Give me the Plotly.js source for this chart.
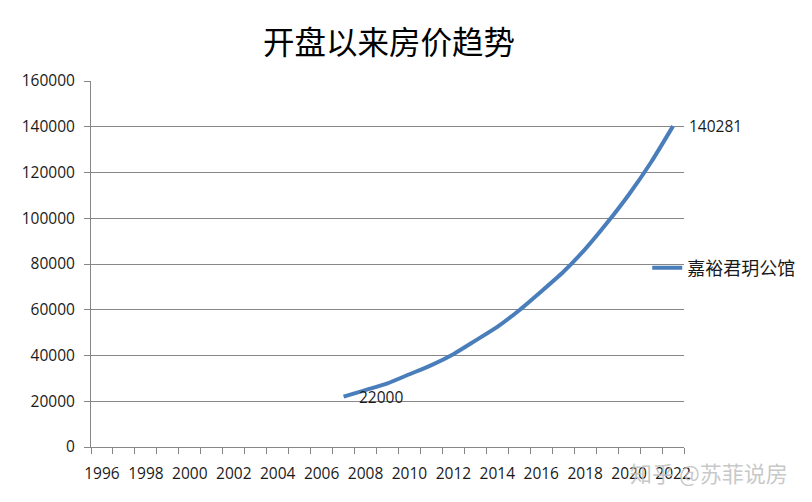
<!DOCTYPE html>
<html>
<head>
<meta charset="utf-8">
<script src="https://cdn.plot.ly/plotly-3.0.1.min.js"></script>
<style>html,body{margin:0;padding:0;background:#fff}#chart{width:812px;height:502px}</style>
</head>
<body>
<div id="chart"></div>
<script>
var chartTitle = "开盘以来房价趋势";
var seriesName = "嘉裕君玥公馆";
var years = [2007, 2008, 2009, 2010, 2011, 2012, 2013, 2014, 2015, 2016, 2017, 2018, 2019, 2020, 2021, 2022];
var prices = [22000, 24900, 27800, 31800, 35800, 40600, 46500, 52500, 59800, 68000, 76500, 86500, 98000, 110500, 124500, 140281];
var axisYears = [1996, 1997, 1998, 1999, 2000, 2001, 2002, 2003, 2004, 2005, 2006, 2007, 2008, 2009, 2010, 2011, 2012, 2013, 2014, 2015, 2016, 2017, 2018, 2019, 2020, 2021, 2022];
var xTickLabels = [1996, 1998, 2000, 2002, 2004, 2006, 2008, 2010, 2012, 2014, 2016, 2018, 2020, 2022];
var yTicks = [0, 20000, 40000, 60000, 80000, 100000, 120000, 140000, 160000];
var watermark = "知乎 @苏菲说房";

var gridColor = "#878787";
var lineColor = "#4a7ebb";
var numFont = "'Open Sans', 'DejaVu Sans', sans-serif";
var cjkFont = "'Noto Sans CJK SC', sans-serif";

var trace = {
  x: years,
  y: prices,
  type: "scatter",
  mode: "lines",
  name: seriesName,
  line: {color: lineColor, width: 4, shape: "spline", smoothing: 0.6},
  hoverinfo: "x+y"
};

var first = 0, last = years.length - 1;
var layout = {
  width: 812,
  height: 502,
  margin: {l: 91, r: 128, t: 81, b: 55},
  paper_bgcolor: "#ffffff",
  plot_bgcolor: "#ffffff",
  title: {
    text: chartTitle,
    font: {family: cjkFont, size: 31.5, color: "#000000"},
    x: 0.5025, xanchor: "center", xref: "paper",
    y: 0.914, yanchor: "middle", yref: "container"
  },
  xaxis: {
    type: "linear",
    range: [axisYears[0] - 0.5, axisYears[axisYears.length - 1] + 0.5],
    tickmode: "array",
    tickvals: xTickLabels,
    ticktext: xTickLabels.map(String),
    ticks: "",
    showgrid: false,
    zeroline: false,
    showline: true,
    linecolor: gridColor,
    linewidth: 1,
    tickfont: {family: numFont, size: 15.5, color: "#1a1a1a"},
    ticklabelstandoff: 12,
    minor: {tick0: axisYears[0] - 0.5, dtick: 1, ticks: "outside", ticklen: 6, tickcolor: gridColor, showgrid: false},
    fixedrange: true
  },
  yaxis: {
    range: [yTicks[0], yTicks[yTicks.length - 1]],
    tickmode: "array",
    tickvals: yTicks,
    ticktext: yTicks.map(String),
    ticks: "outside",
    ticklen: 6,
    tickcolor: gridColor,
    showgrid: true,
    gridcolor: gridColor,
    gridwidth: 1,
    zeroline: false,
    showline: true,
    linecolor: gridColor,
    linewidth: 1,
    tickfont: {family: numFont, size: 15.5, color: "#1a1a1a"},
    ticklabelstandoff: 6,
    fixedrange: true
  },
  showlegend: true,
  legend: {
    x: 0.938, xanchor: "left", xref: "paper",
    y: 0.489, yanchor: "middle", yref: "paper",
    bgcolor: "rgba(0,0,0,0)",
    font: {family: cjkFont, size: 18, color: "#1a1a1a"},
    itemwidth: 30
  },
  annotations: [
    {
      x: years[first], y: prices[first], xref: "x", yref: "y",
      text: String(prices[first]), showarrow: false,
      xanchor: "left", yanchor: "middle", xshift: 13, yshift: 0,
      font: {family: numFont, size: 15.5, color: "#1a1a1a"}
    },
    {
      x: years[last], y: prices[last], xref: "x", yref: "y",
      text: String(prices[last]), showarrow: false,
      xanchor: "left", yanchor: "middle", xshift: 14, yshift: 0,
      font: {family: numFont, size: 15.5, color: "#1a1a1a"}
    },
    {
      x: 790, y: 472, xref: "paper", yref: "paper",
      text: watermark, showarrow: false,
      xanchor: "right", yanchor: "middle",
      font: {family: cjkFont, size: 22, color: "rgba(190,190,190,0.85)"}
    }
  ]
};

// convert watermark position from pixels to paper coordinates
var pw = 812 - 91 - 128, ph = 502 - 81 - 55;
layout.annotations[2].x = (790 - 91) / pw;
layout.annotations[2].y = (447 - 472) / ph;

Plotly.newPlot("chart", [trace], layout, {displayModeBar: false, staticPlot: true});
</script>
</body>
</html>
